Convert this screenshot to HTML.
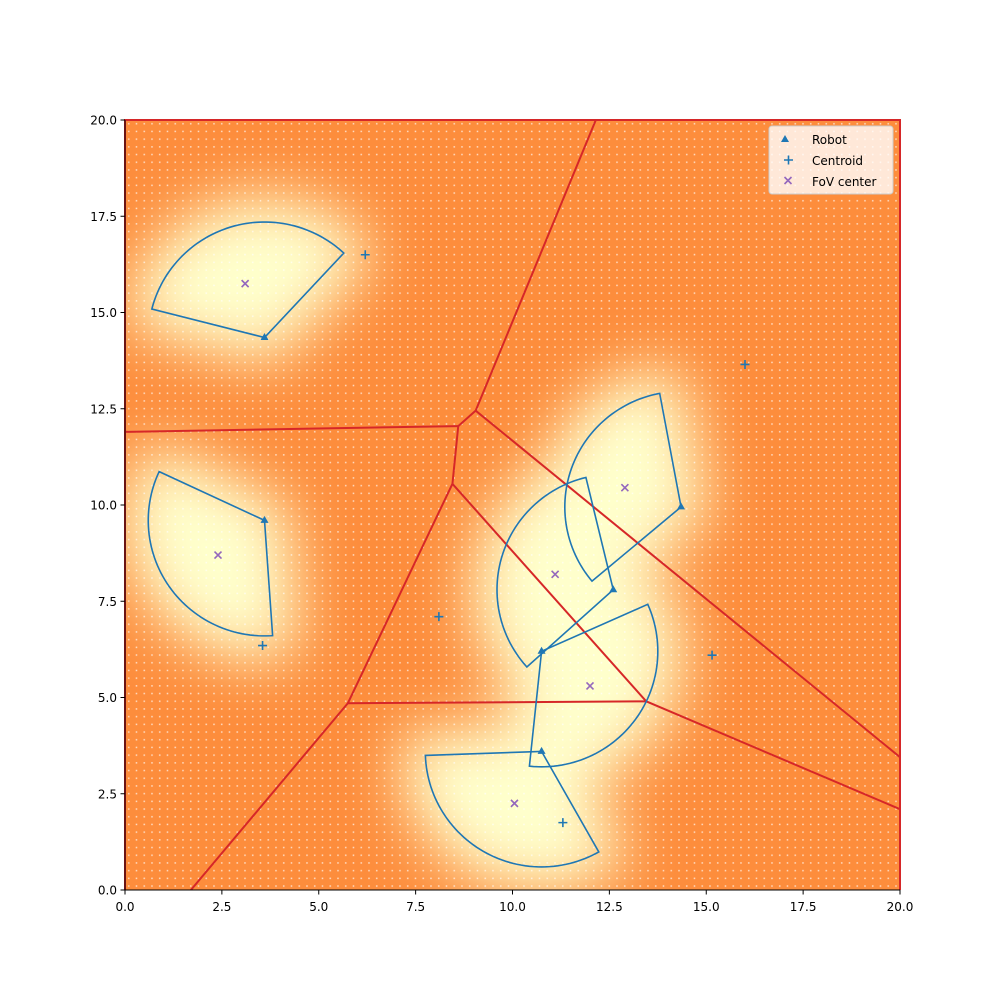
<!DOCTYPE html>
<html><head><meta charset="utf-8"><style>
body{margin:0;background:#fff;font-family:"Liberation Sans","DejaVu Sans",sans-serif}
svg text{font-family:"DejaVu Sans","Liberation Sans",sans-serif;font-size:12px;fill:#000}
</style></head><body>
<svg id="chart" width="1000" height="1000" xmlns="http://www.w3.org/2000/svg">
<defs>
<filter id="blur" x="-50%" y="-50%" width="200%" height="200%"><feGaussianBlur stdDeviation="30"/></filter>
<pattern id="dots" width="7.75" height="7.7" patternUnits="userSpaceOnUse" x="125" y="120"><rect x="3" y="3" width="1.5" height="1.5" fill="#fff" opacity="0.7"/></pattern>
<clipPath id="clip"><rect x="125" y="120" width="775" height="770"/></clipPath>
</defs>
<rect width="1000" height="1000" fill="#fff"/>
<g clip-path="url(#clip)">
<rect x="125" y="120" width="775" height="770" fill="#fd8d3c"/>
<g id="blobs" filter="url(#blur)"></g>
<rect x="125" y="120" width="775" height="770" fill="url(#dots)"/>
<g id="voronoi"></g>
</g>
<path d="M125 890 V120 H900 V890" fill="none" stroke="#d62728" stroke-width="2"/>
<g id="sectors"></g>
<g id="markers"></g>
<g id="axes"></g>
<g>
<rect x="769" y="126" width="124" height="68" rx="3" fill="#fff" fill-opacity="0.8" stroke="#ccc"/>
<path d="M785 135 l4 7 h-8z" fill="#1f77b4"/><text x="812" y="144">Robot</text>
<path d="M784 160 h9 M788.5 155.5 v9" stroke="#1f77b4" stroke-width="1.6"/><text x="812" y="165">Centroid</text>
<path d="M784.5 177 l7 7 M791.5 177 l-7 7" stroke="#9467bd" stroke-width="1.6"/><text x="812" y="186">FoV center</text>
</g>
</svg>
<script>
const robots=[[3.6,14.35],[3.6,9.6],[12.6,7.8],[14.35,9.95],[10.75,6.2],[10.75,3.6]];
const sectorStart=[47,155,103.6,100.6,-96,182];
const sectorEnd=[165.7,274,222,220,24,299.5];
const radius=3.0;
const fovCenters=[[3.1,15.75],[2.4,8.7],[11.1,8.2],[12.9,10.45],[12.0,5.3],[10.05,2.25]];
const centroids=[[6.2,16.5],[3.55,6.35],[8.1,7.1],[16.0,13.65],[15.15,6.1],[11.3,1.75]];
const voronoiEdges=[[[0,11.9],[8.6,12.05]],[[8.6,12.05],[9.05,12.45]],[[9.05,12.45],[12.15,20]],[[8.6,12.05],[8.45,10.55]],[[8.45,10.55],[5.75,4.85]],[[5.75,4.85],[1.7,0]],[[5.75,4.85],[13.45,4.9]],[[8.45,10.55],[13.45,4.9]],[[9.05,12.45],[20,3.45]],[[13.45,4.9],[20,2.1]]];
const xticks=[0,2.5,5,7.5,10,12.5,15,17.5,20];
const yticks=[0,2.5,5,7.5,10,12.5,15,17.5,20];
const X=v=>125+v*38.75, Y=v=>890-v*38.5;
const NS="http://www.w3.org/2000/svg";
function mk(t,a,p){const e=document.createElementNS(NS,t);for(const k in a)e.setAttribute(k,a[k]);p.appendChild(e);return e;}
function sectorPath(i){const [cx,cy]=robots[i];let d=`M${X(cx)} ${Y(cy)}`;
 for(let a=sectorStart[i];a<=sectorEnd[i]+0.01;a+=2){const r=a*Math.PI/180;d+=` L${X(cx+radius*Math.cos(r))} ${Y(cy+radius*Math.sin(r))}`;}
 const r=sectorEnd[i]*Math.PI/180;d+=` L${X(cx+radius*Math.cos(r))} ${Y(cy+radius*Math.sin(r))} Z`;return d;}
const blobs=document.getElementById('blobs'),sec=document.getElementById('sectors'),mg=document.getElementById('markers'),vg=document.getElementById('voronoi'),ax=document.getElementById('axes');
robots.forEach((r,i)=>{
 const b=mk('path',{d:sectorPath(i),fill:'#ffffcc',stroke:'#ffffcc','stroke-width':50,'stroke-linejoin':'round'},blobs);
 
 
 const s=mk('path',{d:sectorPath(i),fill:'none',stroke:'#1f77b4','stroke-width':1.6},sec);
 
 
});
voronoiEdges.forEach(e=>{const l=mk('line',{x1:X(e[0][0]),y1:Y(e[0][1]),x2:X(e[1][0]),y2:Y(e[1][1]),stroke:'#d62728','stroke-width':2},vg);
 
 });
robots.forEach(r=>{const x=X(r[0]),y=Y(r[1]);const m=mk('path',{d:`M${x} ${y-4.5} l4 7 h-8z`,fill:'#1f77b4'},mg);
 
 });
centroids.forEach(r=>{const x=X(r[0]),y=Y(r[1]);const m=mk('path',{d:`M${x-4.5} ${y} h9 M${x} ${y-4.5} v9`,stroke:'#1f77b4','stroke-width':1.6},mg);
 
 });
fovCenters.forEach(r=>{const x=X(r[0]),y=Y(r[1]);const m=mk('path',{d:`M${x-3.5} ${y-3.5} l7 7 M${x+3.5} ${y-3.5} l-7 7`,stroke:'#9467bd','stroke-width':1.6},mg);
 
 });
mk('line',{x1:125,y1:890,x2:900,y2:890,stroke:'#000'},ax);
mk('line',{x1:125,y1:120,x2:125,y2:890,stroke:'#000'},ax);
xticks.forEach(v=>{mk('line',{x1:X(v),x2:X(v),y1:890,y2:894.5,stroke:'#000'},ax);const t=mk('text',{x:X(v),y:911,'text-anchor':'middle'},ax);t.textContent=v.toFixed(1);
 
 });
yticks.forEach(v=>{mk('line',{x1:120.5,x2:125,y1:Y(v),y2:Y(v),stroke:'#000'},ax);const t=mk('text',{x:117,y:Y(v)+4.5,'text-anchor':'end'},ax);t.textContent=v.toFixed(1);
 
 });
</script>
</body></html>
